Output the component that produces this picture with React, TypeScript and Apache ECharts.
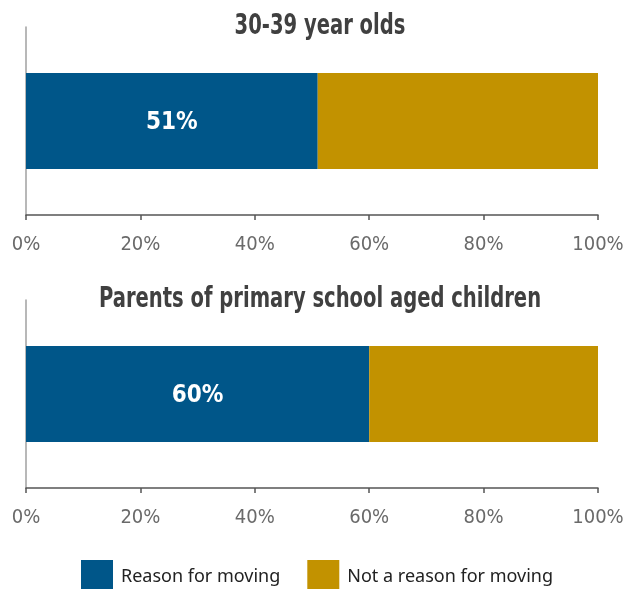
import React, { useEffect, useRef } from "react";
import * as echarts from "echarts";

const panelTitles = ["30-39 year olds", "Parents of primary school aged children"];
const reasonValues = [51, 60];
const notReasonValues = [49, 40];
const seriesNames = ["Reason for moving", "Not a reason for moving"];
const tickValues = [0, 20, 40, 60, 80, 100];

const BLUE = "#005689";
const GOLD = "#C29200";
const FONT = "'DejaVu Sans Condensed', 'DejaVu Sans', sans-serif";

export default function App() {
  const ref = useRef<HTMLDivElement>(null);
  useEffect(() => {
    if (!ref.current) return;
    const chart = echarts.init(ref.current, null, { renderer: "svg" });
    const grids = [
      { left: 26, width: 572, top: 27, height: 188 },
      { left: 26, width: 572, top: 300, height: 188 },
    ];
    const titleY = [24, 297];
    const xAxes = grids.map((_, i) => ({
      type: "value",
      gridIndex: i,
      min: tickValues[0],
      max: tickValues[tickValues.length - 1],
      interval: 20,
      axisLine: { show: true, lineStyle: { color: "#555", width: 1.5 } },
      axisTick: { show: true, length: 5, lineStyle: { color: "#555", width: 1.5 } },
      splitLine: { show: false },
      axisLabel: {
        formatter: "{value}%",
        color: "#6a6a6a",
        fontFamily: FONT,
        fontSize: 20,
        margin: 18,
      },
    }));
    const yAxes = grids.map((_, i) => ({
      type: "category",
      gridIndex: i,
      data: [panelTitles[i]],
      axisLine: { show: true, lineStyle: { color: "#a0a0a0", width: 1.5 } },
      axisTick: { show: false },
      axisLabel: { show: false },
    }));
    const series: any[] = [];
    grids.forEach((_, i) => {
      series.push({
        name: seriesNames[0],
        type: "bar",
        stack: "s" + i,
        xAxisIndex: i,
        yAxisIndex: i,
        barWidth: 96,
        data: [reasonValues[i]],
        itemStyle: { color: BLUE },
        label: {
          show: true,
          position: "inside",
          formatter: "{c}%",
          color: "#fff",
          fontFamily: FONT,
          fontWeight: "bold",
          fontSize: 24,
        },
      });
      series.push({
        name: seriesNames[1],
        type: "bar",
        stack: "s" + i,
        xAxisIndex: i,
        yAxisIndex: i,
        barWidth: 96,
        data: [notReasonValues[i]],
        itemStyle: { color: GOLD },
        label: { show: false },
      });
    });
    chart.setOption({
      animation: false,
      graphic: panelTitles.map((t, i) => ({
        type: "text",
        x: 320,
        y: titleY[i],
        scaleX: 0.75,
        style: {
          text: t,
          fontFamily: FONT,
          fontWeight: "bold",
          fontSize: 29,
          fill: "#404040",
          textAlign: "center",
          textVerticalAlign: "middle",
        },
      })),
      grid: grids,
      xAxis: xAxes,
      yAxis: yAxes,
      legend: {
        data: seriesNames,
        top: 555,
        left: 76,
        itemWidth: 32,
        itemHeight: 29,
        itemGap: 27,
        icon: "rect",
        textStyle: { fontFamily: "'Noto Sans', sans-serif", fontSize: 18, color: "#222", padding: [0, 0, 0, 3] },
      },
      series,
    });
    return () => chart.dispose();
  }, []);
  return (
    <div
      ref={ref}
      style={{ position: "fixed", left: 0, top: 0, width: 632, height: 589, overflow: "hidden" }}
    />
  );
}
